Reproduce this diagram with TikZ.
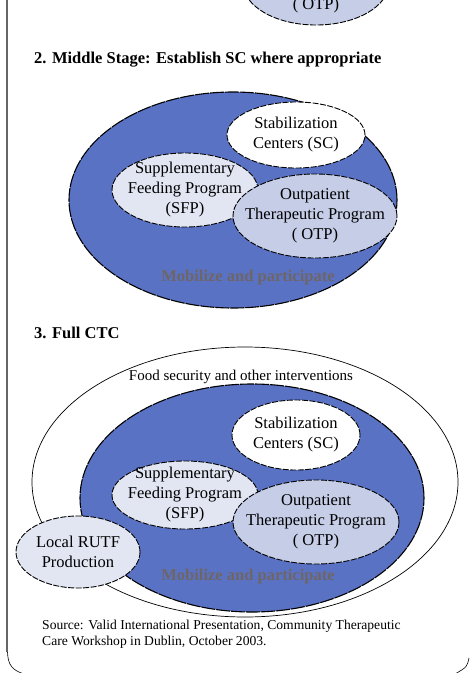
\documentclass[tikz,border=0pt]{standalone}
\usepackage{fontspec}
\setmainfont{Liberation Serif}
\usepackage{tikz}
\usetikzlibrary{shapes.geometric,positioning}
\definecolor{ctcblue}{HTML}{5A72C4}
\definecolor{sfpfill}{HTML}{E2E6F3}
\definecolor{otpfill}{HTML}{C5CDE7}
\definecolor{mobtext}{HTML}{6E6666}
\definecolor{framegray}{HTML}{666666}

\begin{document}
\begin{tikzpicture}[x=1pt, y=-1pt,
  base/.style={draw, ellipse, inner sep=0pt, line width=0.9pt},
  community/.style={base, fill=ctcblue, line width=1.1pt, dash pattern=on 14pt off 1pt},
  outer/.style={base, fill=white, line width=0.7pt},
  prog/.style={base, dash pattern=on 6pt off 1.5pt},
  txt/.style={align=center, inner sep=0pt, font=\fontsize{16.5}{20}\selectfont},
  mob/.style={font=\bfseries\fontsize{16.5}{20}\selectfont, text=mobtext, inner sep=0pt},
  head/.style={anchor=base west, inner sep=0pt, font=\bfseries\fontsize{16.5}{19}\selectfont}
]
\useasboundingbox (0,0) rectangle (470,673);
\clip (0,0) rectangle (470,673);

% page frame
\draw[framegray, line width=2pt] (7,-2) -- (7,652);
\draw[line width=0.6pt] (7.5,652) .. controls (8,665) and (12,670) .. (24,674);
\draw[line width=0.6pt] (469,658) .. controls (467,667) .. (455,674);

% tail of stage 1
\node[prog, fill=otpfill, minimum width=146pt, minimum height=84pt] (otpA) at (316,-17) {};
\node[txt, anchor=base] (otpAT) at (316,9) {( OTP)};

% stage 2
\node[head] (stageB) at (34,63) {2. Middle Stage: Establish SC where appropriate};
\node[community, minimum width=328pt, minimum height=216pt] (commB) at (233,200) {};
\node[prog, fill=white, minimum width=138pt, minimum height=66pt] (scB) at (296,135) {};
\node[txt] (scBT) at (scB.center) {Stabilization\\Centers (SC)};
\node[prog, fill=sfpfill, minimum width=146pt, minimum height=74pt] (sfpB) at (185,190) {};
\node[txt] (sfpBT) at (sfpB.center) {Supplementary\\Feeding Program\\(SFP)};
\node[prog, fill=otpfill, minimum width=164pt, minimum height=84pt] (otpB) at (315,216) {};
\node[txt] (otpBT) at (otpB.center) {Outpatient\\Therapeutic Program\\( OTP)};
\node[mob] (mobB) at (248,278) {Mobilize and participate};

% stage 3
\node[head] (stageC) at (34,338) {3. Full CTC};
\node[outer, minimum width=426pt, minimum height=270pt] (food) at (245,482) {};
\node[txt, font=\fontsize{15}{17}\selectfont] (foodT) at (241,377) {Food security and other interventions};
\node[community, minimum width=344pt, minimum height=228pt] (commC) at (252,498) {};
\node[prog, fill=white, minimum width=128pt, minimum height=70pt] (scC) at (296,435) {};
\node[txt] (scCT) at (scC.center) {Stabilization\\Centers (SC)};
\node[prog, fill=sfpfill, minimum width=146pt, minimum height=68pt] (sfpC) at (185,495) {};
\node[txt] (sfpCT) at (sfpC.center) {Supplementary\\Feeding Program\\(SFP)};
\node[prog, fill=otpfill, minimum width=166pt, minimum height=84pt] (otpC) at (316,522) {};
\node[txt] (otpCT) at (otpC.center) {Outpatient\\Therapeutic Program\\( OTP)};
\node[prog, fill=sfpfill, minimum width=124pt, minimum height=72pt] (rutf) at (78,552) {};
\node[txt] (rutfT) at (rutf.center) {Local RUTF\\Production};
\node[mob] (mobC) at (248,577) {Mobilize and participate};

% source note
\node[anchor=base west, align=left, inner sep=0pt, font=\fontsize{13.6}{15.5}\selectfont] (src) at (42,645)
  {Source: Valid International Presentation, Community Therapeutic\\Care Workshop in Dublin, October 2003.};
\end{tikzpicture}
\end{document}
